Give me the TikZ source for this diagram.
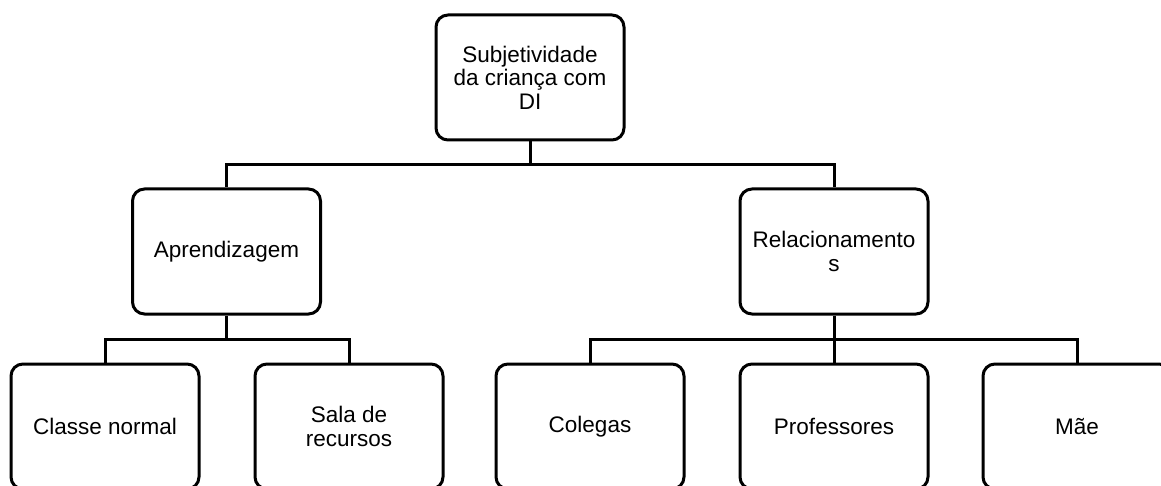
\documentclass[tikz,border=0pt]{standalone}
\usepackage{fontspec}
\setmainfont{Liberation Sans}
\begin{document}
\begin{tikzpicture}[x=1pt,y=-1pt,
  box/.style={draw=black, fill=white, line width=3pt, rounded corners=12pt,
    minimum width=188pt, minimum height=125pt, inner sep=0pt, align=center,
    font=\fontsize{22.5}{23.5}\selectfont},
  link/.style={draw=black, line width=3pt}]
\useasboundingbox (0,0) rectangle (1161,486);
\node[box] (top) at (530,77.5) {Subjetividade\\da criança com\\DI};
\node[box] (apr) at (226.5,251.5) {Aprendizagem};
\node[box] (rel) at (834,251.5) {Relacionamento\\s};
\node[box] (cla) at (105,426.5) {Classe normal};
\node[box] (sal) at (349,426.5) {Sala de\\recursos};
\node[box] (col) at (590,426.5) {Colegas};
\node[box] (pro) at (834,426.5) {Professores};
\node[box] (mae) at (1077,426.5) {Mãe};
\coordinate (b1) at (0,165);
\coordinate (b2) at (0,339);
\draw[link] (top.south) -- (top.south |- b1) -| (apr.north);
\draw[link] (top.south |- b1) -| (rel.north);
\draw[link] (apr.south) -- (apr.south |- b2) -| (cla.north);
\draw[link] (apr.south |- b2) -| (sal.north);
\draw[link] (rel.south) -- (pro.north);
\draw[link] (rel.south |- b2) -| (col.north);
\draw[link] (rel.south |- b2) -| (mae.north);
\end{tikzpicture}
\end{document}
